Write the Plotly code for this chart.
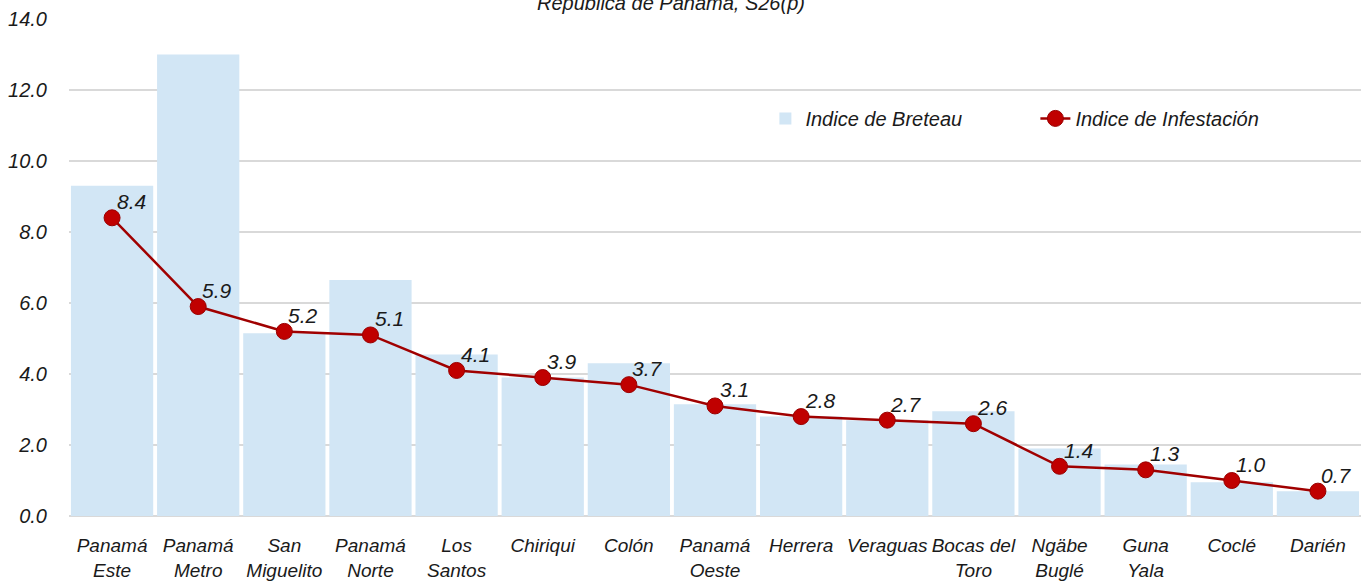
import plotly.graph_objects as go

categories = ["Panamá<br>Este", "Panamá<br>Metro", "San<br>Miguelito", "Panamá<br>Norte", "Los<br>Santos",
              "Chiriqui", "Colón", "Panamá<br>Oeste", "Herrera", "Veraguas", "Bocas del<br>Toro",
              "Ngäbe<br>Buglé", "Guna<br>Yala", "Coclé", "Darién"]
breteau = [9.3, 13.0, 5.15, 6.65, 4.55, 3.9, 4.3, 3.15, 2.8, 2.7, 2.95, 1.9, 1.45, 0.95, 0.7]
infestacion = [8.4, 5.9, 5.2, 5.1, 4.1, 3.9, 3.7, 3.1, 2.8, 2.7, 2.6, 1.4, 1.3, 1.0, 0.7]
y_ticks = [0, 2, 4, 6, 8, 10, 12, 14]
title_text = "República de Panamá, S26(p)"

FONT = "Liberation Sans, Arial, sans-serif"
TXT = "#1a1a1a"

fig = go.Figure()
fig.add_trace(go.Bar(
    x=categories, y=breteau, name="<i>Indice de Breteau</i>",
    marker=dict(color="#D2E6F5", line=dict(width=0)),
))
fig.add_trace(go.Scatter(
    x=categories, y=infestacion, name="<i>Indice de Infestación</i>",
    mode="lines+markers",
    line=dict(color="#A00000", width=2.5),
    marker=dict(color="#C00000", size=16, line=dict(color="#990000", width=1)),
))

for cat, val in zip(categories, infestacion):
    fig.add_annotation(
        x=cat, y=val, xref="x", yref="y", text=f"<i>{val:.1f}</i>",
        showarrow=False, xshift=19, yshift=16,
        font=dict(size=21, color=TXT, family=FONT),
    )

fig.add_annotation(
    text=f"<i>{title_text}</i>", xref="paper", yref="paper", x=0.466, y=1,
    xanchor="center", yanchor="middle", yshift=16, showarrow=False,
    font=dict(size=20, color=TXT, family=FONT),
)

fig.update_layout(
    width=1361, height=581,
    margin=dict(l=69, r=0, t=19, b=65),
    plot_bgcolor="white", paper_bgcolor="white",
    bargap=0.045,
    font=dict(family=FONT, size=18, color=TXT),
    showlegend=True,
    legend=dict(orientation="h", x=0.539, y=0.80, xanchor="left", yanchor="middle",
                font=dict(size=20, color=TXT, family=FONT), bgcolor="rgba(0,0,0,0)",
                entrywidth=225, entrywidthmode="pixels", tracegroupgap=0),
    xaxis=dict(showgrid=False, tickfont=dict(size=19, color=TXT, family=FONT),
               range=[-0.5, len(categories) - 0.5],
               ticks="", showline=False, tickangle=0, automargin=False,
               tickprefix="<i>", ticksuffix="</i>", ticklabelstandoff=16),
    yaxis=dict(range=[0, 14], tickvals=y_ticks, ticktext=[f"<i>{v:.1f}</i>" for v in y_ticks],
               showgrid=True, gridcolor="#D9D9D9", gridwidth=2, zeroline=True,
               zerolinecolor="#D9D9D9", zerolinewidth=2, ticks="", ticklabelstandoff=21,
               automargin=False, tickfont=dict(size=20, color=TXT, family=FONT)),
)

fig.write_html("out.html", config={"displayModeBar": False},
               post_script="document.body.style.margin='0';")
